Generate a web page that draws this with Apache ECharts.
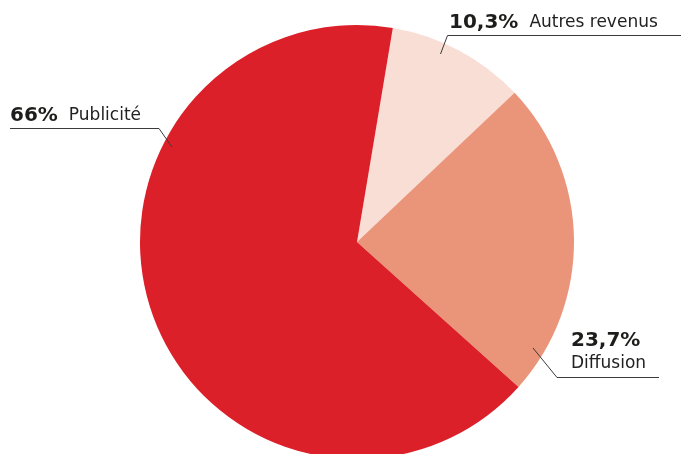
<!DOCTYPE html>
<html>
<head>
<meta charset="utf-8">
<script src="https://cdn.jsdelivr.net/npm/echarts@6/dist/echarts.min.js"></script>
<style>
html,body{margin:0;padding:0;background:#fff;}
#chart{width:688px;height:454px;}
</style>
</head>
<body>
<div id="chart"></div>
<script>
// Data
var categories = ['Autres revenus', 'Diffusion', 'Publicité'];
var values = [10.3, 23.7, 66];
var colors = ['#F8DED4', '#EA947A', '#DC2029'];

// Label placement (layout only)
var labelLayouts = [
  { x: 449, y: 34, multiline: false, line: [[440.5, 54], [447.5, 35.5], [681, 35.5]] },
  { x: 571, y: 375, multiline: true,  line: [[533, 348], [557, 377.5], [659, 377.5]] },
  { x: 10,  y: 127, multiline: false, line: [[172, 147], [159, 128.5], [10, 128.5]] }
];

function fmtPct(v) { return String(v).replace('.', ',') + '%'; }

var data = categories.map(function (name, i) {
  return {
    name: name,
    value: values[i],
    itemStyle: { color: colors[i] },
    label: {
      formatter: '{p|' + fmtPct(values[i]) + '}' + (labelLayouts[i].multiline ? '\n' : '') + '{' + (labelLayouts[i].multiline ? 'n' : 'ns') + '|' + name + '}'
    }
  };
});

var chart = echarts.init(document.getElementById('chart'), null, { renderer: 'canvas' });
chart.setOption({
  animation: false,
  backgroundColor: '#ffffff',
  graphic: labelLayouts.map(function (L) {
    return {
      type: 'polyline',
      z: 100,
      silent: true,
      shape: { points: L.line },
      style: { stroke: '#3a3a3a', lineWidth: 1, fill: null }
    };
  }),
  series: [{
    type: 'pie',
    center: [357, 242],
    radius: [0, 217],
    startAngle: 80.5,
    clockwise: true,
    avoidLabelOverlap: false,
    itemStyle: { borderWidth: 0 },
    emphasis: { disabled: true },
    label: {
      show: true,
      position: 'outside',
      rich: {
        p: { fontFamily: 'DejaVu Sans', fontWeight: 'bold', fontSize: 20, color: '#1d1d1b', lineHeight: 23 },
        n: { fontFamily: 'DejaVu Sans', fontSize: 17, color: '#222222', lineHeight: 23 },
        ns: { fontFamily: 'DejaVu Sans', fontSize: 17, color: '#222222', lineHeight: 23, padding: [0, 0, 0, 11] }
      }
    },
    labelLine: { show: false },
    labelLayout: function (p) {
      var L = labelLayouts[p.dataIndex];
      return {
        x: L.x,
        y: L.y,
        align: 'left',
        verticalAlign: 'bottom'
      };
    },
    data: data
  }]
});
</script>
</body>
</html>
